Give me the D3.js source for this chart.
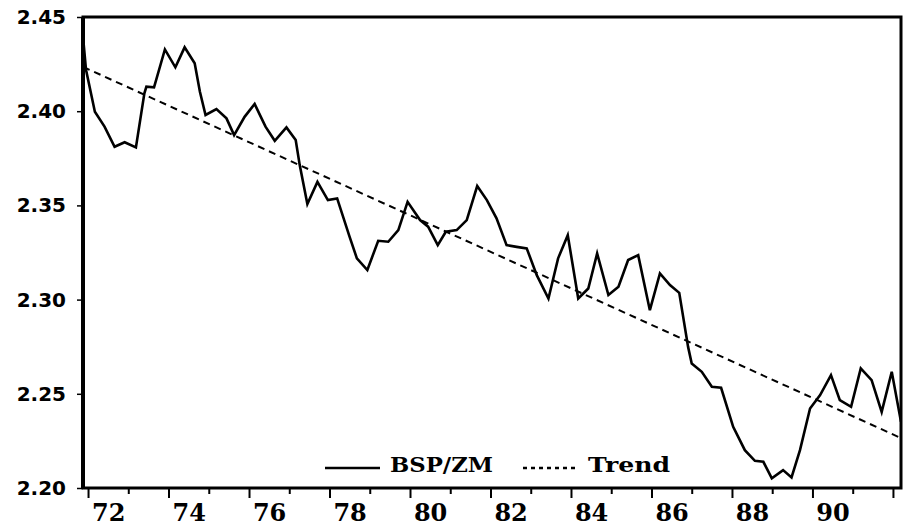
<!DOCTYPE html>
<html>
<head>
<meta charset="utf-8">
<script src="https://cdn.jsdelivr.net/npm/d3@7/dist/d3.min.js"></script>
<style>
  html, body { margin: 0; padding: 0; background: #fff; }
  svg { display: block; }
</style>
</head>
<body>
<svg id="chart" width="908" height="528"></svg>
<script>
// ---- data (time in decimal years, 19xx) ----
const bspYears = [71.89, 71.95, 72.17, 72.41, 72.66, 72.91, 73.19, 73.40, 73.45, 73.64,
  73.91, 74.17, 74.40, 74.65, 74.78, 74.92, 75.19, 75.44, 75.63, 75.89,
  76.14, 76.41, 76.64, 76.93, 77.16, 77.26, 77.45, 77.70, 77.96, 78.19,
  78.50, 78.68, 78.94, 79.21, 79.46, 79.71, 79.94, 80.25, 80.45, 80.69,
  80.89, 81.16, 81.41, 81.67, 81.91, 82.15, 82.40, 82.65, 82.90, 83.15,
  83.44, 83.68, 83.92, 84.18, 84.43, 84.65, 84.93, 85.18, 85.42, 85.67,
  85.96, 86.21, 86.46, 86.69, 86.91, 87.00, 87.25, 87.50, 87.73, 88.03,
  88.32, 88.57, 88.78, 88.99, 89.27, 89.48, 89.69, 89.94, 90.19, 90.46,
  90.68, 90.96, 91.20, 91.47, 91.72, 91.97, 92.20];
const bspValues = [2.436, 2.422, 2.3997, 2.3918, 2.3811, 2.3835, 2.3808, 2.4095, 2.413, 2.4127,
  2.4328, 2.4233, 2.4339, 2.4254, 2.4103, 2.398, 2.4011, 2.3962, 2.3873, 2.397,
  2.4038, 2.3918, 2.3843, 2.3914, 2.3847, 2.3714, 2.3507, 2.3625, 2.3528, 2.3537,
  2.3333, 2.3219, 2.3157, 2.3312, 2.3307, 2.3369, 2.3519, 2.3422, 2.3387, 2.3289,
  2.336, 2.3369, 2.3422, 2.3603, 2.3528, 2.3431, 2.3289, 2.328, 2.3272, 2.313,
  2.3006, 2.3219, 2.3342, 2.3006, 2.3059, 2.3245, 2.3024, 2.3068, 2.321, 2.3236,
  2.2944, 2.3139, 2.3077, 2.3036, 2.2749, 2.2661, 2.2617, 2.2537, 2.2532, 2.2325,
  2.2201, 2.2144, 2.2139, 2.2051, 2.2095, 2.2056, 2.2201, 2.2422, 2.2493, 2.2599,
  2.2466, 2.2431, 2.2635, 2.2573, 2.2404, 2.2617, 2.2351];
const trendYears = [71.88, 92.2];
const trendValues = [2.4235, 2.2265];
const yTicks = [2.20, 2.25, 2.30, 2.35, 2.40, 2.45];
const xTicks = [72, 73, 74, 75, 76, 77, 78, 79, 80, 81, 82, 83, 84, 85, 86, 87, 88, 89, 90, 91, 92];
const xLabels = ["72", "74", "76", "78", "80", "82", "84", "86", "88", "90"];
const seriesNames = ["BSP/ZM", "Trend"];

// ---- layout ----
const svg = d3.select("#chart");
const L = 83, R = 901, T = 17, B = 488;
const x = d3.scaleLinear().domain([71.875, 92.2]).range([L, R]);
const y = d3.scaleLinear().domain([2.20, 2.45]).range([B, T]);

const bsp = bspYears.map((t, i) => ({ t, v: bspValues[i] }));
const trend = trendYears.map((t, i) => ({ t, v: trendValues[i] }));
const line = d3.line().x(d => x(d.t)).y(d => y(d.v));

// clip
svg.append("defs").append("clipPath").attr("id", "clip")
  .append("rect").attr("x", L).attr("y", T).attr("width", R - L).attr("height", B - T);

const plot = svg.append("g").attr("clip-path", "url(#clip)");
plot.append("path").datum(trend).attr("d", line)
  .attr("fill", "none").attr("stroke", "#000").attr("stroke-width", 2)
  .attr("stroke-dasharray", "7,5");
plot.append("path").datum(bsp).attr("d", line)
  .attr("fill", "none").attr("stroke", "#000").attr("stroke-width", 2.6)
  .attr("stroke-linejoin", "miter");

// y axis
const yAxis = svg.append("g").attr("transform", `translate(${L},0)`)
  .call(d3.axisLeft(y).tickValues(yTicks).tickFormat(d3.format(".2f")).tickSize(6).tickPadding(11));
yAxis.select(".domain").remove();
yAxis.selectAll("line").attr("stroke-width", 1.5);
yAxis.selectAll("text").attr("font-family", "DejaVu Sans").attr("font-weight", "bold")
  .attr("font-size", 20).attr("fill", "#000");

// x axis
const xAxis = svg.append("g").attr("transform", `translate(0,${B})`)
  .call(d3.axisBottom(x).tickValues(xTicks)
    .tickFormat(d => xLabels.includes(String(d)) ? String(d) : "").tickSize(6));
xAxis.select(".domain").remove();
xAxis.selectAll(".tick line")
  .attr("y2", d => (d % 2 === 0 ? 10 : 6)).attr("stroke-width", 2);
xAxis.selectAll(".tick text")
  .attr("x", x(72.5) - x(72)).attr("y", 33).attr("dy", 0)
  .attr("font-family", "DejaVu Serif").attr("font-weight", "bold")
  .attr("font-size", 24).attr("fill", "#000");

// frame
svg.append("rect").attr("x", L).attr("y", T).attr("width", R - L).attr("height", B - T)
  .attr("fill", "none").attr("stroke", "#000").attr("stroke-width", 3);
svg.append("line").attr("x1", L).attr("x2", L).attr("y1", T).attr("y2", B)
  .attr("stroke", "#000").attr("stroke-width", 4);

// legend
const lg = svg.append("g");
lg.append("line").attr("x1", 325).attr("x2", 380).attr("y1", 468).attr("y2", 468)
  .attr("stroke", "#000").attr("stroke-width", 2.6);
lg.append("text").attr("x", 390).attr("y", 472).text(seriesNames[0])
  .attr("font-family", "DejaVu Serif").attr("font-weight", "bold").attr("font-size", 20)
  .attr("textLength", 103).attr("lengthAdjust", "spacingAndGlyphs");
lg.append("line").attr("x1", 523).attr("x2", 577).attr("y1", 468).attr("y2", 468)
  .attr("stroke", "#000").attr("stroke-width", 2.6).attr("stroke-dasharray", "4,4");
lg.append("text").attr("x", 588).attr("y", 472).text(seriesNames[1])
  .attr("font-family", "DejaVu Serif").attr("font-weight", "bold").attr("font-size", 20)
  .attr("textLength", 82).attr("lengthAdjust", "spacingAndGlyphs");
</script>
</body>
</html>
